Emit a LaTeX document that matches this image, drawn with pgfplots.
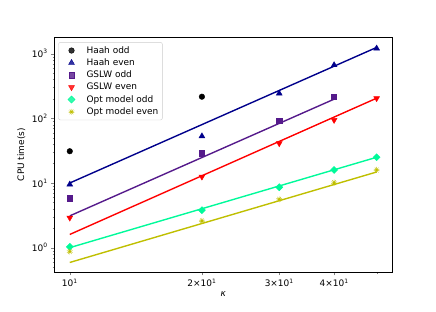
\documentclass[border=0pt]{standalone}
\usepackage{fontspec}
\setmainfont{DejaVu Sans}
\usepackage{pgfplots}
\pgfplotsset{compat=1.18}
\definecolor{haahE}{HTML}{00008B}
\definecolor{gslwO}{HTML}{551A8B}
\definecolor{gslwE}{HTML}{FF0000}
\definecolor{optO}{HTML}{00FA9A}
\definecolor{optE}{HTML}{BFBF00}
\begin{document}
\begin{tikzpicture}
\begin{axis}[
  scale only axis, width=337.5bp, height=234.5bp,
  xmode=log, ymode=log,
  xmin=9.23, xmax=54.2, ymin=0.42, ymax=1780,
  font=\fontsize{9}{10.5}\selectfont,
  tick align=outside, xtick pos=left, ytick pos=left,
  axis line style={line width=0.8pt},
  major tick length=3.3bp, minor tick length=1.9bp,
  xtick={10,20,30,40},
  xticklabels={10\textsuperscript{1}, 2×10\textsuperscript{1}, 3×10\textsuperscript{1}, 4×10\textsuperscript{1}},
  minor xtick={50},
  ytick={1,10,100,1000},
  yticklabels={10\textsuperscript{0},10\textsuperscript{1},10\textsuperscript{2},10\textsuperscript{3}},
  minor ytick={0.5,0.6,0.7,0.8,0.9,2,3,4,5,6,7,8,9,20,30,40,50,60,70,80,90,200,300,400,500,600,700,800,900},
  xlabel={\textit{κ}}, ylabel={CPU time(s)},
  xlabel style={at={(axis description cs:0.5,-0.094)}, anchor=center},
  ylabel style={at={(axis description cs:-0.098,0.5)}, anchor=center},
  legend style={at={(axis description cs:0.0113,0.980)}, anchor=north west,
    draw=black!20, rounded corners=2pt, fill=white, fill opacity=0.8, text opacity=1,
    font=\fontsize{9}{10.5}\selectfont, row sep=0bp, inner sep=2bp},
  legend cell align=left,
  legend image code/.code={\path[draw=none,fill=none] (0bp,0bp) -- (24bp,0bp); \draw[#1] plot coordinates {(11bp,0bp)};},
]
% data
\addplot[only marks, mark=*, mark size=2.8bp, black] coordinates {(10,31) (20,216)};
\addlegendentry{Haah odd}
\addplot[only marks, mark=triangle*, mark size=3.4bp, color=haahE] coordinates {(10,9.5) (20,53) (30,243) (40,667) (50,1208)};
\addlegendentry{Haah even}
\addplot[only marks, mark=square*, mark size=2.6bp, color=gslwO] coordinates {(10,5.8) (20,28.8) (30,91.8) (40,216)};
\addlegendentry{GSLW odd}
\addplot[only marks, mark=triangle*, mark options={rotate=180}, mark size=3.4bp, color=gslwE] coordinates {(10,2.9) (20,12.5) (30,41) (40,94) (50,204)};
\addlegendentry{GSLW even}
\addplot[only marks, mark=square*, mark options={rotate=45}, mark size=2.5bp, color=optO] coordinates {(10,1.03) (20,3.8) (30,8.6) (40,15.9) (50,25)};
\addlegendentry{Opt model odd}
\addplot[only marks, mark=10-pointed star, mark size=3bp, color=optE] coordinates {(10,0.87) (20,2.59) (30,5.6) (40,10.1) (50,15.9)};
\addlegendentry{Opt model even}
% fit lines
\addplot[forget plot, no marks, line width=1.4pt, color=haahE] coordinates {(10,10) (50,1250)};
\addplot[forget plot, no marks, line width=1.4pt, color=gslwO] coordinates {(10,3.1) (40,198)};
\addplot[forget plot, no marks, line width=1.4pt, color=gslwE] coordinates {(10,1.6) (50,205)};
\addplot[forget plot, no marks, line width=1.4pt, color=optO] coordinates {(10,1.0) (50,25)};
\addplot[forget plot, no marks, line width=1.4pt, color=optE] coordinates {(10,0.59) (50,14.8)};
\end{axis}
\path[use as bounding box] (current axis.south west) ++(-54.5bp,-40bp) rectangle ++(436bp,312bp);
\end{tikzpicture}
\end{document}
